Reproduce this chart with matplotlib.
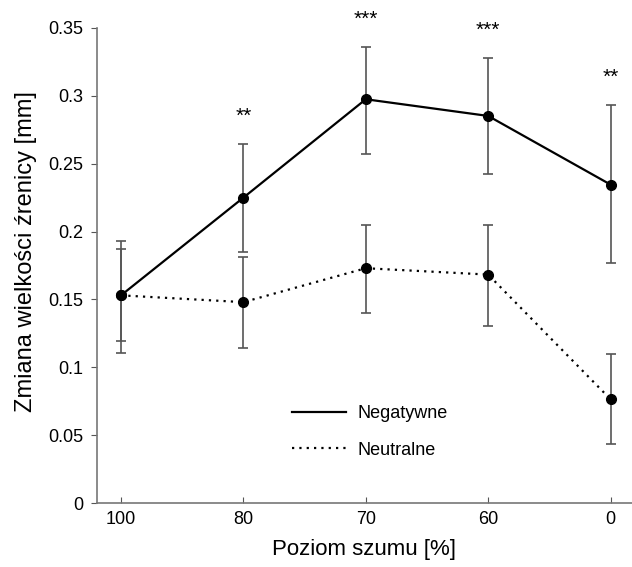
import matplotlib
matplotlib.use("Agg")
import matplotlib.pyplot as plt
import numpy as np

plt.rcParams['font.family'] = ['Liberation Sans', 'DejaVu Sans']

categories = ["100", "80", "70", "60", "0"]
neg_mean = [0.153, 0.225, 0.2975, 0.2852, 0.2346]
neg_upper = [0.1933, 0.2646, 0.3363, 0.3280, 0.2933]
neg_lower = [0.1108, 0.1852, 0.2572, 0.2422, 0.1766]
neu_mean = [0.153, 0.148, 0.173, 0.1683, 0.0764]
neu_upper = [0.1874, 0.1813, 0.2049, 0.2049, 0.1096]
neu_lower = [0.1194, 0.1140, 0.1402, 0.1307, 0.0432]
stars = ["", "**", "***", "***", "**"]
y_ticks = [0, 0.05, 0.1, 0.15, 0.2, 0.25, 0.3, 0.35]
y_tick_labels = ["0", "0.05", "0.1", "0.15", "0.2", "0.25", "0.3", "0.35"]

fig = plt.figure(figsize=(6.32, 5.67), dpi=100)
ax = fig.add_axes([97/632, 1-503/567, 1-97/632, (503-28)/567])

x = np.arange(len(categories))
errc = '#555555'

neg_err = [np.array(neg_mean) - np.array(neg_lower), np.array(neg_upper) - np.array(neg_mean)]
neu_err = [np.array(neu_mean) - np.array(neu_lower), np.array(neu_upper) - np.array(neu_mean)]

ax.errorbar(x, neu_mean, yerr=neu_err, fmt='none', ecolor=errc, elinewidth=1.2, capsize=3.3, capthick=1.2)
ax.errorbar(x, neg_mean, yerr=neg_err, fmt='none', ecolor=errc, elinewidth=1.2, capsize=3.3, capthick=1.2)
ax.plot(x, neg_mean, '-', color='black', lw=1.6, marker='o', ms=7, label='Negatywne')
ax.plot(x, neu_mean, linestyle=(0, (1, 2.3)), color='black', lw=1.6, marker='o', ms=7, label='Neutralne')

for xi, s, up in zip(x, stars, neg_upper):
    if s:
        ax.annotate(s, (xi, up), xytext=(0, 13), textcoords='offset points',
                    ha='center', va='bottom', fontsize=15)

ax.set_xlim(-0.196, 4.175)
ax.set_ylim(0, 0.35)
ax.set_xticks(x)
ax.set_xticklabels(categories)
ax.set_yticks(y_ticks)
ax.set_yticklabels(y_tick_labels)

for s in ['top', 'right']:
    ax.spines[s].set_visible(False)
for s in ['left', 'bottom']:
    ax.spines[s].set_color('#777777')
    ax.spines[s].set_linewidth(1.2)

ax.tick_params(axis='x', direction='in', length=4, color='#555555', labelsize=13, pad=6)
ax.tick_params(axis='y', direction='out', length=4, color='#555555', labelsize=13, pad=6)

ax.set_xlabel('Poziom szumu [%]', fontsize=16, labelpad=8)
ax.set_ylabel('Zmiana wielkości źrenicy [mm]', fontsize=17)
ax.yaxis.set_label_coords(-0.112, 0.53)

leg = ax.legend(loc='center left', bbox_to_anchor=(0.364, 0.1495), frameon=False,
                fontsize=13, handlelength=3.0, handletextpad=0.65, labelspacing=1.08,
                borderpad=0, borderaxespad=0)
for h in leg.legend_handles:
    h.set_marker('')

fig.savefig('out.png', dpi=100)
